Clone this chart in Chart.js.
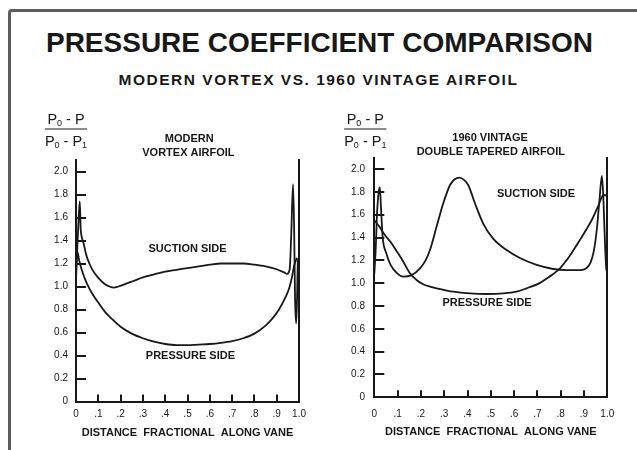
<!DOCTYPE html>
<html>
<head>
<meta charset="utf-8">
<script src="https://cdn.jsdelivr.net/npm/chart.js@4.4.1/dist/chart.umd.min.js"></script>
<style>
  html, body { margin: 0; padding: 0; background: #fff; }
  body { width: 637px; height: 450px; position: relative; overflow: hidden; font-family: "Liberation Sans", Arial, sans-serif; color: #181818; }
  #frame { position: absolute; left: 8px; top: 9px; width: 640px; height: 439px; border-top: 3px solid #5c5c5c; border-left: 3px solid #5c5c5c; border-top-left-radius: 4px; }
  #title { position: absolute; left: 0; width: 639px; top: 26px; text-align: center; font-weight: bold; font-size: 28px; line-height: 34px; }
  #subtitle { position: absolute; left: 0; width: 637px; top: 70px; text-align: center; font-weight: bold; font-size: 15.5px; letter-spacing: 1.5px; line-height: 20px; }
  .box { position: absolute; top: 100px; height: 350px; }
</style>
</head>
<body>
<div id="frame"></div>
<div id="title">PRESSURE COEFFICIENT COMPARISON</div>
<div id="subtitle">MODERN VORTEX VS. 1960 VINTAGE AIRFOIL</div>
<div class="box" style="left:0;width:320px"><canvas id="leftChart" width="320" height="350"></canvas></div>
<div class="box" style="left:320px;width:317px"><canvas id="rightChart" width="317" height="350"></canvas></div>
<script>
// axis ticks
const xTickValues = [0, 0.1, 0.2, 0.3, 0.4, 0.5, 0.6, 0.7, 0.8, 0.9, 1.0];
const xTickLabels = ['0', '.1', '.2', '.3', '.4', '.5', '.6', '.7', '.8', '.9', '1.0'];
const yTickValues = [0, 0.2, 0.4, 0.6, 0.8, 1.0, 1.2, 1.4, 1.6, 1.8, 2.0];
const yTickLabels = ['0', '0.2', '0.4', '0.6', '0.8', '1.0', '1.2', '1.4', '1.6', '1.8', '2.0'];

// modern vortex airfoil
const modernSuctionX = [0, 0.006, 0.012, 0.017, 0.021, 0.026, 0.035, 0.045, 0.06, 0.075, 0.10, 0.13, 0.15, 0.17, 0.19, 0.22, 0.26, 0.30, 0.35, 0.40, 0.45, 0.50, 0.55, 0.60, 0.65, 0.70, 0.75, 0.80, 0.85, 0.90, 0.93, 0.946, 0.958, 0.965, 0.973, 0.978, 0.982, 0.987, 0.991, 0.995, 1.0];
const modernSuctionY = [1.05, 1.35, 1.6, 1.74, 1.5, 1.43, 1.37, 1.28, 1.2, 1.14, 1.075, 1.02, 1.0, 0.99, 1.0, 1.02, 1.05, 1.08, 1.105, 1.13, 1.145, 1.16, 1.175, 1.19, 1.2, 1.2, 1.2, 1.19, 1.175, 1.15, 1.125, 1.11, 1.15, 1.45, 1.89, 1.5, 0.9, 0.68, 0.9, 1.23, 1.25];
const modernPressureX = [0, 0.006, 0.015, 0.03, 0.05, 0.075, 0.10, 0.13, 0.16, 0.20, 0.25, 0.30, 0.35, 0.40, 0.45, 0.50, 0.55, 0.60, 0.65, 0.70, 0.75, 0.80, 0.85, 0.88, 0.91, 0.935, 0.955, 0.968, 0.978, 0.99];
const modernPressureY = [1.15, 1.3, 1.22, 1.12, 1.02, 0.93, 0.86, 0.78, 0.72, 0.65, 0.59, 0.55, 0.52, 0.50, 0.49, 0.49, 0.495, 0.50, 0.51, 0.525, 0.55, 0.59, 0.66, 0.72, 0.80, 0.89, 0.98, 1.08, 1.18, 1.25];

// 1960 vintage double tapered airfoil
const vintageSuctionX = [0, 0.006, 0.012, 0.019, 0.024, 0.029, 0.036, 0.05, 0.07, 0.096, 0.124, 0.16, 0.196, 0.22, 0.239, 0.268, 0.296, 0.325, 0.345, 0.365, 0.385, 0.403, 0.432, 0.468, 0.51, 0.568, 0.625, 0.697, 0.768, 0.825, 0.883, 0.91, 0.928, 0.942, 0.955, 0.966, 0.977, 0.984, 0.99, 0.996, 1.0];
const vintageSuctionY = [1.08, 1.3, 1.62, 1.8, 1.84, 1.65, 1.4, 1.27, 1.16, 1.09, 1.057, 1.07, 1.13, 1.2, 1.29, 1.5, 1.7, 1.86, 1.91, 1.925, 1.905, 1.86, 1.7, 1.52, 1.39, 1.29, 1.22, 1.16, 1.124, 1.115, 1.115, 1.13, 1.18, 1.28, 1.47, 1.72, 1.94, 1.7, 1.35, 1.12, 1.1];
const vintagePressureX = [0, 0.02, 0.046, 0.07, 0.096, 0.124, 0.153, 0.18, 0.21, 0.239, 0.268, 0.339, 0.41, 0.48, 0.554, 0.61, 0.654, 0.71, 0.74, 0.768, 0.797, 0.825, 0.855, 0.883, 0.91, 0.935, 0.96, 0.983, 0.997];
const vintagePressureY = [1.55, 1.5, 1.42, 1.36, 1.28, 1.19, 1.086, 1.03, 0.99, 0.97, 0.955, 0.925, 0.91, 0.905, 0.91, 0.925, 0.955, 1.0, 1.04, 1.08, 1.13, 1.2, 1.29, 1.38, 1.47, 1.56, 1.67, 1.77, 1.77];

const modernNotes = [
  { text: 'MODERN', x: 0.508, y: 2.28 },
  { text: 'VORTEX AIRFOIL', x: 0.504, y: 2.165 },
  { text: 'SUCTION SIDE', x: 0.5, y: 1.33 },
  { text: 'PRESSURE SIDE', x: 0.513, y: 0.40 }
];
const vintageNotes = [
  { text: '1960 VINTAGE', x: 0.497, y: 2.27 },
  { text: 'DOUBLE TAPERED AIRFOIL', x: 0.50, y: 2.15 },
  { text: 'SUCTION SIDE', x: 0.694, y: 1.78 },
  { text: 'PRESSURE SIDE', x: 0.484, y: 0.826 }
];

const INK = '#181818';
const FONT = '"Liberation Sans", Arial, sans-serif';

function toPoints(xs, ys) {
  return xs.map((x, i) => ({ x: x, y: ys[i] }));
}

// text labels placed in data units
const notesPlugin = {
  id: 'notes',
  afterDatasetsDraw(chart, args, opts) {
    const ctx = chart.ctx;
    const xs = chart.scales.x, ys = chart.scales.y;
    ctx.save();
    ctx.fillStyle = INK;
    ctx.font = 'bold 11px ' + FONT;
    ctx.textAlign = 'center';
    ctx.textBaseline = 'middle';
    (opts.items || []).forEach(n => {
      ctx.fillText(n.text, xs.getPixelForValue(n.x), ys.getPixelForValue(n.y));
    });
    ctx.restore();
  }
};

// (P0 - P) / (P0 - P1) axis caption
function drawParts(ctx, parts, cx, y) {
  const big = '14.5px ' + FONT, small = '9px ' + FONT;
  let w = 0;
  parts.forEach(p => { ctx.font = p[1] ? small : big; w += ctx.measureText(p[0]).width; });
  let x = cx - w / 2;
  parts.forEach(p => {
    ctx.font = p[1] ? small : big;
    ctx.fillText(p[0], x, p[1] ? y + 4 : y);
    x += ctx.measureText(p[0]).width;
  });
  return w;
}

const fractionPlugin = {
  id: 'fraction',
  afterDraw(chart, args, opts) {
    const ctx = chart.ctx, area = chart.chartArea;
    const cx = area.left - opts.dx;
    const ly = area.top - opts.dy;
    ctx.save();
    ctx.fillStyle = INK;
    ctx.strokeStyle = INK;
    ctx.textBaseline = 'middle';
    ctx.textAlign = 'left';
    const w1 = drawParts(ctx, [['P', false], ['0', true], [' - P', false]], cx, ly - 9);
    const w2 = drawParts(ctx, [['P', false], ['0', true], [' - P', false], ['1', true]], cx, ly + 13);
    const w = Math.max(w1, w2);
    ctx.lineWidth = 1.2;
    ctx.beginPath();
    ctx.moveTo(cx - w / 2, ly);
    ctx.lineTo(cx + w / 2, ly);
    ctx.stroke();
    ctx.restore();
  }
};

function makeChart(id, suction, pressure, notes, g) {
  const line = {
    borderColor: INK,
    borderWidth: 1.8,
    pointRadius: 0,
    fill: false,
    cubicInterpolationMode: 'monotone'
  };
  return new Chart(document.getElementById(id), {
    type: 'line',
    data: {
      datasets: [
        Object.assign({ label: 'Suction side', data: suction }, line),
        Object.assign({ label: 'Pressure side', data: pressure }, line)
      ]
    },
    options: {
      responsive: false,
      animation: false,
      layout: { padding: { left: 0, right: g.padRight, top: g.padTop, bottom: 0 } },
      plugins: {
        legend: { display: false },
        tooltip: { enabled: false },
        notes: { items: notes },
        fraction: { dx: g.fracDx, dy: g.fracDy }
      },
      scales: {
        x: {
          type: 'linear',
          position: 'bottom',
          min: 0,
          max: 1,
          afterBuildTicks: s => { s.ticks = xTickValues.map(v => ({ value: v })); },
          afterFit: s => { s.height = g.xHeight; },
          grid: { drawOnChartArea: false, drawTicks: true, tickLength: -7, color: INK, lineWidth: 2 },
          border: { display: true, color: INK, width: 2 },
          ticks: {
            padding: g.xPad,
            maxRotation: 0,
            autoSkip: false,
            color: INK,
            font: { family: FONT, size: 10 },
            callback: (v, i) => xTickLabels[i]
          },
          title: {
            display: true,
            text: 'DISTANCE  FRACTIONAL  ALONG VANE',
            color: INK,
            font: { family: FONT, size: 11, weight: 'bold' },
            padding: { top: 0, bottom: g.titlePad }
          }
        },
        y: {
          type: 'linear',
          position: 'left',
          min: 0,
          max: 2.1,
          afterBuildTicks: s => { s.ticks = yTickValues.map(v => ({ value: v })); },
          afterFit: s => { s.width = g.yWidth; },
          grid: { drawOnChartArea: false, drawTicks: true, tickLength: -10, color: INK, lineWidth: 2 },
          border: { display: true, color: INK, width: 2 },
          ticks: {
            padding: g.yPad,
            color: INK,
            font: { family: FONT, size: 10 },
            callback: (v, i) => yTickLabels[i]
          }
        },
        y2: {
          type: 'linear',
          position: 'right',
          min: 0,
          max: 2.1,
          afterFit: s => { s.width = 0; },
          grid: { display: false },
          border: { display: true, color: INK, width: 2 },
          ticks: { display: false }
        }
      }
    },
    plugins: [notesPlugin, fractionPlugin]
  });
}

makeChart('leftChart',
  toPoints(modernSuctionX, modernSuctionY),
  toPoints(modernPressureX, modernPressureY),
  modernNotes,
  { padRight: 8, padTop: 60, xHeight: 48.5, yWidth: 76, xPad: 14, yPad: 18, titlePad: 10.5, fracDx: 10, fracDy: 31 });

makeChart('rightChart',
  toPoints(vintageSuctionX, vintageSuctionY),
  toPoints(vintagePressureX, vintagePressureY),
  vintageNotes,
  { padRight: 29.7, padTop: 57.6, xHeight: 52.7, yWidth: 54.3, xPad: 18, yPad: 19.3, titlePad: 11.4, fracDx: 9, fracDy: 28.6 });
</script>
</body>
</html>
